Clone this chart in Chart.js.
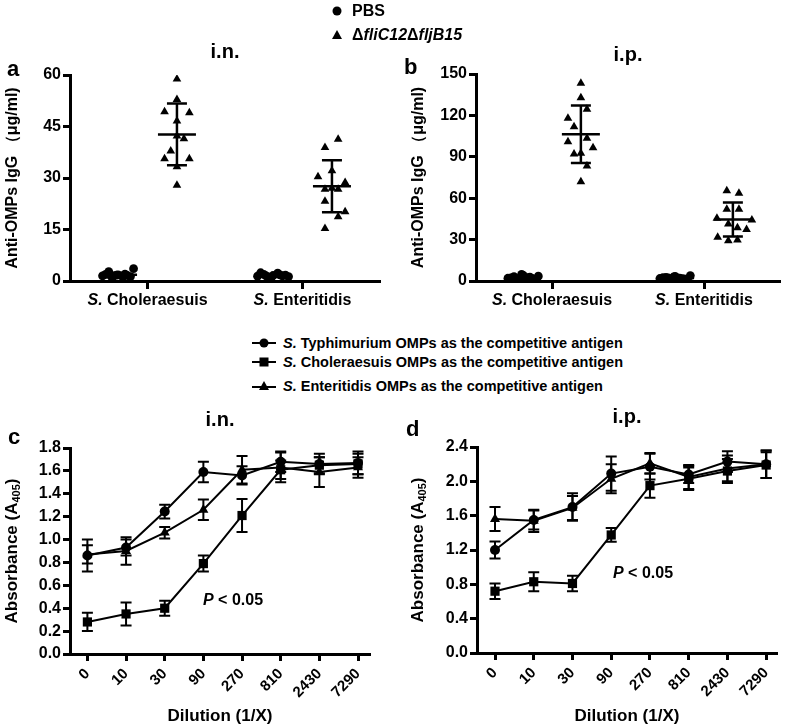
<!DOCTYPE html>
<html>
<head>
<meta charset="utf-8">
<script src="https://cdn.jsdelivr.net/npm/chart.js@4.4.0/dist/chart.umd.min.js"></script>
<style>
  body { margin: 0; background: #fff; font-family: "Liberation Sans", Arial, sans-serif; }
  #wrap { position: relative; width: 787px; height: 728px; overflow: hidden; }
  canvas { position: absolute; }
  .lbl { position: absolute; font-weight: bold; color: #000; white-space: nowrap; line-height: 18px; }
</style>
</head>
<body>
<div id="wrap">
  <canvas id="chartA" style="left:0;top:0" width="393" height="318"></canvas>
  <canvas id="chartB" style="left:393px;top:0" width="394" height="318"></canvas>
  <canvas id="chartC" style="left:0;top:395px" width="393" height="333"></canvas>
  <canvas id="chartD" style="left:393px;top:395px" width="394" height="333"></canvas>

  <!-- top legend -->
  <svg style="position:absolute;left:330px;top:4px" width="14" height="14"><circle cx="7" cy="7" r="4.5" fill="#000"/></svg>
  <div class="lbl" style="left:352px;top:2px;font-size:16px">PBS</div>
  <svg style="position:absolute;left:330px;top:28px" width="14" height="14"><polygon points="7,2 12,11 2,11" fill="#000"/></svg>
  <div class="lbl" style="left:352px;top:26px;font-size:16px">Δ<i>fliC12</i>Δ<i>fljB15</i></div>

  <!-- bottom legend -->
  <svg style="position:absolute;left:252px;top:336px" width="24" height="14"><line x1="0" y1="7" x2="24" y2="7" stroke="#000" stroke-width="2"/><circle cx="12" cy="7" r="4.5" fill="#000"/></svg>
  <div class="lbl" style="left:283px;top:334px;font-size:14.5px"><i>S.</i> Typhimurium OMPs as the competitive antigen</div>
  <svg style="position:absolute;left:252px;top:355px" width="24" height="14"><line x1="0" y1="7" x2="24" y2="7" stroke="#000" stroke-width="2"/><rect x="7.5" y="2.5" width="9" height="9" fill="#000"/></svg>
  <div class="lbl" style="left:283px;top:353px;font-size:14.5px"><i>S.</i> Choleraesuis OMPs as the competitive antigen</div>
  <svg style="position:absolute;left:252px;top:379px" width="24" height="14"><line x1="0" y1="8" x2="24" y2="8" stroke="#000" stroke-width="2"/><polygon points="12,2 17,11 7,11" fill="#000"/></svg>
  <div class="lbl" style="left:283px;top:377px;font-size:14.5px"><i>S.</i> Enteritidis OMPs as the competitive antigen</div>

  <!-- panel letters -->
  <div class="lbl" style="left:7px;top:57px;font-size:22px;line-height:24px">a</div>
  <div class="lbl" style="left:404px;top:55px;font-size:22px;line-height:24px">b</div>
  <div class="lbl" style="left:8px;top:425px;font-size:22px;line-height:24px">c</div>
  <div class="lbl" style="left:406px;top:417px;font-size:22px;line-height:24px">d</div>

  <!-- significance notes -->
  <div class="lbl" style="left:203px;top:591px;font-size:16px"><i>P</i> &lt; 0.05</div>
  <div class="lbl" style="left:613px;top:564px;font-size:16px"><i>P</i> &lt; 0.05</div>
</div>

<script>
const fam = '"Liberation Sans", Arial, Helvetica, sans-serif';
Chart.defaults.font.family = fam;
Chart.defaults.font.weight = 'bold';
Chart.defaults.color = '#000';
Chart.defaults.animation = false;

// ---- panels a/b : anti-OMPs IgG (ug/ml) ----
const groups = ['S. Choleraesuis', 'S. Enteritidis'];

// i.n.
const inPbsChol = [1.5, 2.7, 1.4, 1.8, 1.2, 1.6, 3.6, 1.9, 1.3, 1.7, 2.0, 1.4];
const inPbsEnt = [1.4, 1.9, 1.2, 1.6, 2.3, 1.5, 1.3, 2.4, 1.7, 1.1, 1.8, 1.5];
const inMutChol = [58.8, 52.9, 49.3, 49.0, 46.6, 42.2, 41.4, 37.9, 35.6, 35.6, 33.3, 27.9];
const inMutEnt = [41.3, 38.9, 30.4, 32.1, 28.7, 26.7, 26.7, 27.0, 23.2, 20.2, 18.7, 15.3];
const inPbsMean = [1.8, 1.6];
const inPbsSd = [0.6, 0.4];
const inMutMean = [42.7, 27.6];
const inMutSd = [9.0, 7.6];

// i.p.
const ipPbsChol = [2.0, 3.1, 1.5, 4.0, 2.5, 1.8, 3.6, 2.2, 1.2, 4.8, 2.8, 1.6];
const ipPbsEnt = [1.8, 2.6, 1.4, 3.3, 2.1, 1.5, 3.9, 2.4, 1.1, 2.9, 1.7, 2.2];
const ipMutChol = [143.3, 132.8, 124.4, 117.9, 111.8, 100.9, 103.4, 96.6, 92.0, 92.5, 83.3, 72.0];
const ipMutEnt = [65.4, 63.5, 52.0, 52.0, 45.4, 44.2, 41.3, 38.6, 37.4, 31.7, 29.2, 29.7];
const ipPbsMean = [2.6, 2.2];
const ipPbsSd = [1.0, 0.8];
const ipMutMean = [106.3, 44.5];
const ipMutSd = [20.8, 12.3];

// horizontal scatter of the dots inside each group (category units)
const pbsJitter = [-0.1, -0.06, -0.03, 0, 0.03, 0.06, 0.1, -0.08, 0.08, -0.01, 0.045, -0.045];
const inCholJitter = [0, 0, -0.08, 0.08, 0, 0, 0.045, -0.04, -0.08, 0.08, 0, 0];
const inEntJitter = [0.04, -0.045, -0.09, 0, 0.085, -0.045, 0.04, 0, -0.045, 0.085, 0.04, -0.045];
const ipCholJitter = [0, 0, 0.04, -0.085, -0.045, -0.085, 0.04, 0.08, -0.045, 0, 0.04, 0];
const ipEntJitter = [-0.04, 0.04, -0.04, 0.04, -0.105, 0.125, -0.03, 0.03, 0.09, -0.1, -0.03, 0.03];

// ---- panels c/d : competitive ELISA, absorbance A405 ----
const dilutions = ['0', '10', '30', '90', '270', '810', '2430', '7290'];

const inTyph = [0.86, 0.93, 1.245, 1.59, 1.56, 1.68, 1.66, 1.67];
const inTyphSd = [0.14, 0.07, 0.06, 0.09, 0.08, 0.09, 0.09, 0.10];
const inChol = [0.28, 0.35, 0.40, 0.79, 1.21, 1.61, 1.65, 1.66];
const inCholSd = [0.08, 0.10, 0.065, 0.07, 0.145, 0.08, 0.07, 0.09];
const inEnt = [0.87, 0.90, 1.06, 1.26, 1.61, 1.63, 1.59, 1.63];
const inEntSd = [0.08, 0.12, 0.05, 0.09, 0.12, 0.13, 0.13, 0.09];

const ipTyph = [1.20, 1.55, 1.70, 2.09, 2.17, 2.08, 2.23, 2.20];
const ipTyphSd = [0.10, 0.11, 0.16, 0.20, 0.15, 0.10, 0.12, 0.16];
const ipChol = [0.72, 0.83, 0.81, 1.375, 1.95, 2.03, 2.12, 2.19];
const ipCholSd = [0.09, 0.11, 0.09, 0.08, 0.14, 0.13, 0.14, 0.15];
const ipEnt = [1.56, 1.54, 1.69, 2.03, 2.21, 2.05, 2.15, 2.20];
const ipEntSd = [0.14, 0.13, 0.14, 0.17, 0.12, 0.14, 0.15, 0.16];

const GROUP_SHIFT = 0.19;

// mean line + SD whiskers for the dot plots
function meanSdPlugin(bars) {
  return {
    id: 'meanSd',
    afterDatasetsDraw(chart) {
      const { ctx, scales: { x, y } } = chart;
      ctx.save();
      ctx.strokeStyle = '#000';
      ctx.lineWidth = 2.5;
      bars.forEach(b => {
        const px = x.getPixelForValue(b.x);
        const pm = y.getPixelForValue(b.mean);
        const pt = y.getPixelForValue(b.mean + b.sd);
        const pb = y.getPixelForValue(Math.max(b.mean - b.sd, 0));
        ctx.beginPath();
        ctx.moveTo(px - 19, pm); ctx.lineTo(px + 19, pm);
        ctx.moveTo(px, pt); ctx.lineTo(px, pb);
        ctx.moveTo(px - 10, pt); ctx.lineTo(px + 10, pt);
        ctx.moveTo(px - 10, pb); ctx.lineTo(px + 10, pb);
        ctx.stroke();
      });
      ctx.restore();
    }
  };
}

// category labels with italic genus abbreviation
const italicLabels = {
  id: 'italicLabels',
  afterDraw(chart) {
    const { ctx, scales: { x }, chartArea } = chart;
    const fi = 'italic bold 16px ' + fam, fb = 'bold 16px ' + fam;
    ctx.save();
    ctx.fillStyle = '#000';
    ctx.textBaseline = 'middle';
    ctx.textAlign = 'left';
    groups.forEach((g, i) => {
      const head = g.slice(0, 2), rest = g.slice(2);
      ctx.font = fi; const w1 = ctx.measureText(head).width;
      ctx.font = fb; const w2 = ctx.measureText(rest).width;
      const left = x.getPixelForValue(i + 0.5) - (w1 + w2) / 2;
      const yy = chartArea.bottom + 20;
      ctx.font = fi; ctx.fillText(head, left, yy);
      ctx.font = fb; ctx.fillText(rest, left + w1, yy);
    });
    ctx.restore();
  }
};

function dots(values, group, shift, jitter) {
  return values.map((v, j) => ({ x: group + 0.5 + shift + jitter[j], y: v }));
}

function dotPanel(id, title, yMax, yStep, yWidth, padRight, titlePad, pbs, mut, pbsMean, pbsSd, mutMean, mutSd, yTitlePad) {
  const bars = [];
  [0, 1].forEach(i => {
    bars.push({ x: i + 0.5 - GROUP_SHIFT, mean: pbsMean[i], sd: pbsSd[i] });
    bars.push({ x: i + 0.5 + GROUP_SHIFT, mean: mutMean[i], sd: mutSd[i] });
  });
  return new Chart(document.getElementById(id), {
    type: 'scatter',
    data: {
      datasets: [
        {
          label: 'PBS',
          data: pbs[0].concat(pbs[1]),
          pointStyle: 'circle', pointRadius: 4.4,
          backgroundColor: '#000', borderColor: '#000', borderWidth: 0
        },
        {
          label: 'mutant',
          data: mut[0].concat(mut[1]),
          pointStyle: 'triangle', pointRadius: 5,
          backgroundColor: '#000', borderColor: '#000', borderWidth: 0
        }
      ]
    },
    options: {
      responsive: false,
      layout: { padding: { right: padRight } },
      plugins: {
        legend: { display: false },
        tooltip: { enabled: false },
        title: {
          display: true, text: title, fullSize: false,
          font: { size: 20, weight: 'bold' }, color: '#000', padding: titlePad
        }
      },
      scales: {
        x: {
          type: 'linear', min: 0, max: 2,
          afterBuildTicks: s => { s.ticks = groups.map((g, i) => ({ value: i + 0.5 })); },
          ticks: { display: false },
          grid: { drawOnChartArea: false, tickLength: 8, tickWidth: 3, tickColor: '#000' },
          border: { width: 3, color: '#000' },
          afterFit: s => { s.height = 37; }
        },
        y: {
          min: 0, max: yMax,
          ticks: { stepSize: yStep, font: { size: 16, weight: 'bold' }, color: '#000', padding: 2 },
          grid: { drawOnChartArea: false, tickLength: 7, tickWidth: 3, tickColor: '#000' },
          border: { width: 3, color: '#000' },
          title: {
            display: true, text: 'Anti-OMPs IgG （μg/ml)',
            font: { size: 16, weight: 'bold' }, color: '#000', padding: { top: yTitlePad, bottom: 0 }
          },
          afterFit: s => { s.width = yWidth; }
        }
      }
    },
    plugins: [meanSdPlugin(bars), italicLabels]
  });
}

dotPanel('chartA', 'i.n.', 60, 15, 70, 13, { top: 40, bottom: 11 },
  [dots(inPbsChol, 0, -GROUP_SHIFT, pbsJitter), dots(inPbsEnt, 1, -GROUP_SHIFT, pbsJitter)],
  [dots(inMutChol, 0, GROUP_SHIFT, inCholJitter), dots(inMutEnt, 1, GROUP_SHIFT, inEntJitter)],
  inPbsMean, inPbsSd, inMutMean, inMutSd, 3);

dotPanel('chartB', 'i.p.', 150, 30, 83, 7, { top: 43, bottom: 7 },
  [dots(ipPbsChol, 0, -GROUP_SHIFT, pbsJitter), dots(ipPbsEnt, 1, -GROUP_SHIFT, pbsJitter)],
  [dots(ipMutChol, 0, GROUP_SHIFT, ipCholJitter), dots(ipMutEnt, 1, GROUP_SHIFT, ipEntJitter)],
  ipPbsMean, ipPbsSd, ipMutMean, ipMutSd, 16);

// SD error bars for the line panels
const errorBars = {
  id: 'errorBars',
  afterDatasetsDraw(chart) {
    const { ctx, scales: { x, y } } = chart;
    ctx.save();
    ctx.strokeStyle = '#000';
    ctx.lineWidth = 2;
    chart.data.datasets.forEach(ds => {
      ds.data.forEach((p, i) => {
        const px = x.getPixelForValue(p.x);
        const t = y.getPixelForValue(p.y + ds.sd[i]);
        const b = y.getPixelForValue(p.y - ds.sd[i]);
        ctx.beginPath();
        ctx.moveTo(px, t); ctx.lineTo(px, b);
        ctx.moveTo(px - 5.5, t); ctx.lineTo(px + 5.5, t);
        ctx.moveTo(px - 5.5, b); ctx.lineTo(px + 5.5, b);
        ctx.stroke();
      });
    });
    ctx.restore();
  }
};

// rotated y title with subscript
function absTitle(xPos) {
  return {
    id: 'absTitle',
    afterDraw(chart) {
      const { ctx, chartArea } = chart;
      const main = 'Absorbance (A', sub = '405', end = ')';
      const fMain = 'bold 17px ' + fam, fSub = 'bold 11px ' + fam;
      ctx.save();
      ctx.font = fMain; const w1 = ctx.measureText(main).width, w3 = ctx.measureText(end).width;
      ctx.font = fSub; const w2 = ctx.measureText(sub).width;
      ctx.translate(xPos, (chartArea.top + chartArea.bottom) / 2);
      ctx.rotate(-Math.PI / 2);
      ctx.fillStyle = '#000';
      ctx.textBaseline = 'middle';
      ctx.textAlign = 'left';
      let sx = -(w1 + w2 + w3) / 2;
      ctx.font = fMain; ctx.fillText(main, sx, 0);
      ctx.font = fSub; ctx.fillText(sub, sx + w1, 5);
      ctx.font = fMain; ctx.fillText(end, sx + w1 + w2, 0);
      ctx.restore();
    }
  };
}

function series(values, sd, style, radius) {
  return {
    data: values.map((v, i) => ({ x: i, y: v })),
    sd: sd,
    borderColor: '#000', borderWidth: 2,
    backgroundColor: '#000',
    pointStyle: style, pointRadius: radius,
    pointBackgroundColor: '#000', pointBorderColor: '#000', pointBorderWidth: 0,
    fill: false, tension: 0
  };
}

function linePanel(id, title, yMax, yStep, yWidth, padRight, titlePad, xMin, xMax, xHeight, yTitleX, typh, chol, ent) {
  return new Chart(document.getElementById(id), {
    type: 'line',
    data: {
      datasets: [
        series(typh[0], typh[1], 'circle', 5),
        series(chol[0], chol[1], 'rect', 6.5),
        series(ent[0], ent[1], 'triangle', 5.8)
      ]
    },
    options: {
      responsive: false,
      layout: { padding: { right: padRight } },
      plugins: {
        legend: { display: false },
        tooltip: { enabled: false },
        title: {
          display: true, text: title, fullSize: false,
          font: { size: 20, weight: 'bold' }, color: '#000', padding: titlePad
        }
      },
      scales: {
        x: {
          type: 'linear', min: xMin, max: xMax,
          afterBuildTicks: s => { s.ticks = dilutions.map((d, i) => ({ value: i })); },
          ticks: {
            callback: v => dilutions[v], autoSkip: false, minRotation: 45, maxRotation: 45,
            font: { size: 15, weight: 'bold' }, color: '#000', padding: 4
          },
          grid: { drawOnChartArea: false, tickLength: 7, tickWidth: 3, tickColor: '#000' },
          border: { width: 3, color: '#000' },
          title: {
            display: true, text: 'Dilution (1/X)',
            font: { size: 17, weight: 'bold' }, color: '#000', padding: { top: 0, bottom: 1 }
          },
          afterFit: s => { s.height = xHeight; }
        },
        y: {
          min: 0, max: yMax,
          ticks: {
            stepSize: yStep, callback: v => v.toFixed(1),
            font: { size: 16, weight: 'bold' }, color: '#000', padding: 2
          },
          grid: { drawOnChartArea: false, tickLength: 7, tickWidth: 3, tickColor: '#000' },
          border: { width: 3, color: '#000' },
          afterFit: s => { s.width = yWidth; }
        }
      }
    },
    plugins: [errorBars, absTitle(yTitleX)]
  });
}

linePanel('chartC', 'i.n.', 1.8, 0.2, 70, 23, { top: 13, bottom: 16 }, -0.45, 7.31, 74, 12,
  [inTyph, inTyphSd], [inChol, inCholSd], [inEnt, inEntSd]);

linePanel('chartD', 'i.p.', 2.4, 0.4, 84, 10, { top: 10, bottom: 18 }, -0.465, 7.28, 75, 25,
  [ipTyph, ipTyphSd], [ipChol, ipCholSd], [ipEnt, ipEntSd]);
</script>
</body>
</html>
